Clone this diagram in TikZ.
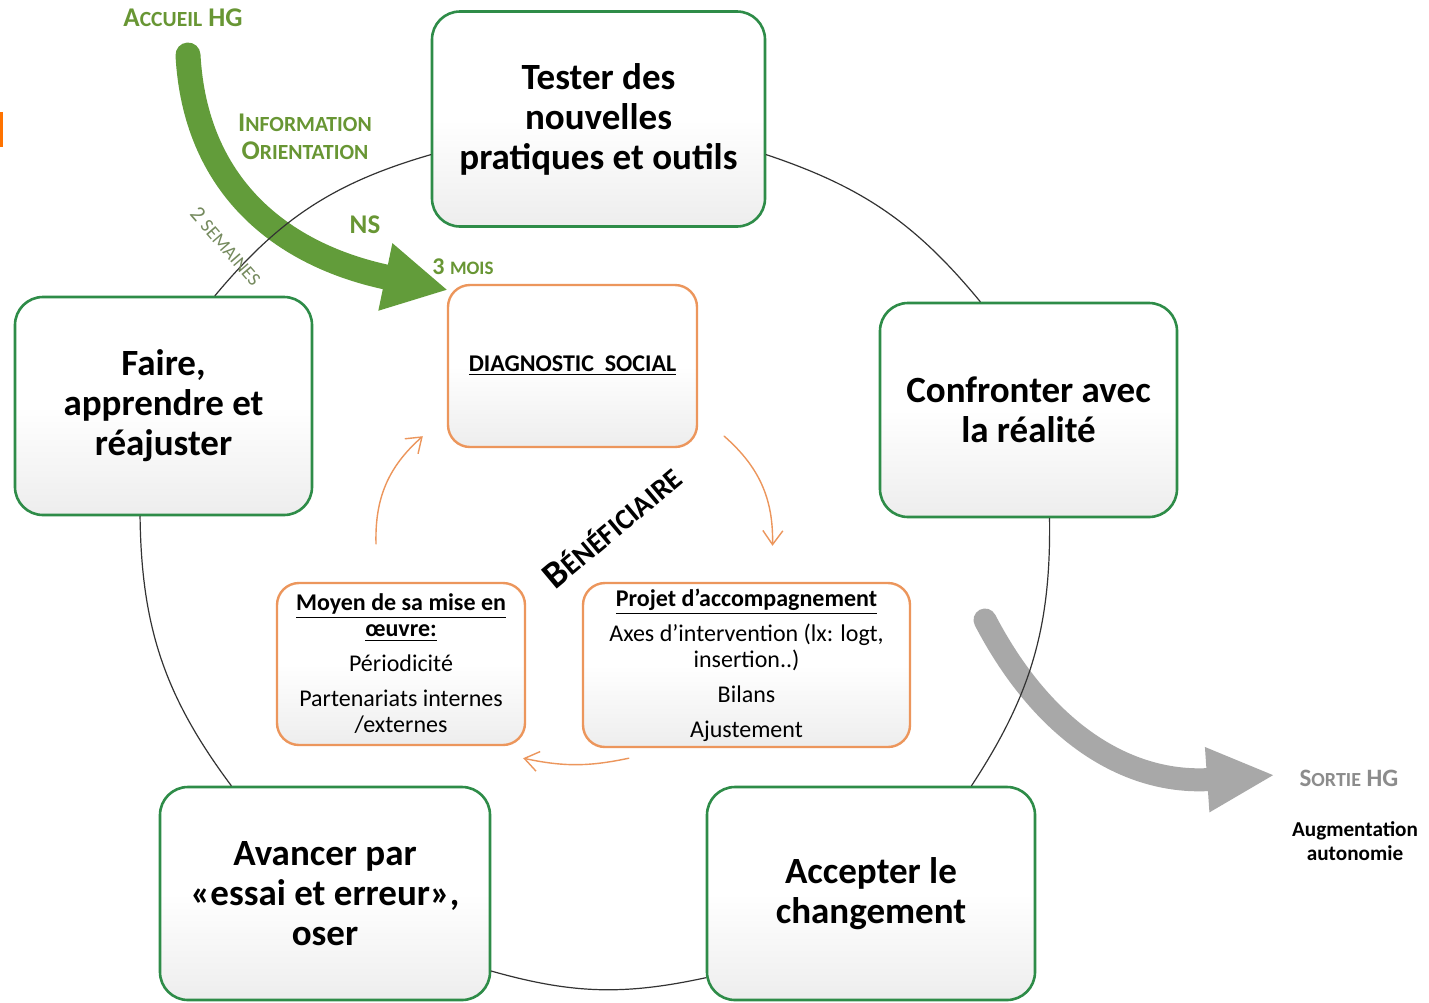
\documentclass[tikz,border=0pt]{standalone}
\usepackage{fontspec}
\setmainfont{Carlito}
\usetikzlibrary{arrows.meta}

\definecolor{cadre}{RGB}{46,140,72}
\definecolor{orangec}{RGB}{236,150,92}
\definecolor{vertfl}{RGB}{98,156,58}
\definecolor{vertlb}{RGB}{104,150,52}
\definecolor{grisfl}{RGB}{168,168,168}
\definecolor{grislb}{RGB}{140,140,140}

% petites capitales a la main
\newcommand{\gc}[1]{{\fontsize{13.5}{15}\selectfont #1}}
\newcommand{\pc}[1]{{\fontsize{10.8}{12}\selectfont #1}}

\tikzset{
  etape/.style={draw=cadre, line width=1.3pt, rounded corners=14pt,
    top color=white, bottom color=black!7, middle color=white,
    align=center, inner sep=0pt,
    font=\fontsize{18.5}{20}\selectfont\bfseries},
  bloc/.style={draw=orangec, line width=1.2pt, rounded corners=11pt,
    top color=white, bottom color=black!7, middle color=white,
    align=center, inner sep=0pt, font=\fontsize{12}{13}\selectfont},
  cycle/.style={black!80, line width=0.6pt},
  retour/.style={orangec, line width=0.7pt, -{Straight Barb[length=7pt,width=10pt]}},
  etiq/.style={vertlb, font=\bfseries, inner sep=0pt}
}

\begin{document}
\begin{tikzpicture}[x=0.5pt,y=-0.5pt,line cap=round]
  \fill[white] (0,0) rectangle (1429,1002);
  \useasboundingbox (0,0) rectangle (1429,1002);
  \fill[orange!90!red] (0,112) rectangle (2.5,147);

  % grandes fleches
  \draw[line width=12.5pt, vertfl, -{Triangle[length=32pt,width=32pt]}]
    (188,55) .. controls (195,185) and (280,255) .. (448,290);
  \draw[line width=11.5pt, grisfl, -{Triangle[length=34pt,width=30pt]}]
    (985,620) .. controls (1045,735) and (1130,785) .. (1275,775);

  % etapes du cycle
  \node[etape, minimum width=166.5pt, minimum height=107.5pt] (tester) at (598.5,119)
    {Tester des\\nouvelles\\pratiques et outils};
  \node[etape, minimum width=148.5pt, minimum height=107pt] (confronter) at (1028.5,410)
    {Confronter avec\\la réalité};
  \node[etape, minimum width=164pt, minimum height=106.5pt] (accepter) at (871,893.5)
    {Accepter le\\changement};
  \node[etape, minimum width=165pt, minimum height=106.5pt] (avancer) at (325,893.5)
    {Avancer par\\«essai et erreur»,\\oser};
  \node[etape, minimum width=148.5pt, minimum height=109pt] (faire) at (163.5,406)
    {Faire,\\apprendre et\\réajuster};

  \draw[cycle] (tester.192) to[bend right=17] (faire.65);
  \draw[cycle] (faire.258) to[bend right=18] (avancer.131);
  \draw[cycle] (avancer.335) to[bend right=14] (accepter.207);
  \draw[cycle] (accepter.47) to[bend right=17] (confronter.281);
  \draw[cycle] (confronter.114) to[bend right=16] (tester.348);

  % accompagnement
  \node[bloc, minimum width=124.5pt, minimum height=81pt] (diag) at (572.5,366)
    {\bfseries\underline{DIAGNOSTIC\ \ SOCIAL}};
  \node[bloc, minimum width=163.5pt, minimum height=82pt] (projet) at (746.5,665)
    {\bfseries\underline{Projet d’accompagnement}\\[4.5pt]
     Axes d’intervention (lx: logt,\\insertion..)\\[4.5pt]
     Bilans\\[4.5pt]Ajustement};
  \node[bloc, minimum width=124pt, minimum height=81pt] (moyen) at (401,664)
    {\bfseries\underline{Moyen de sa mise en}\\\bfseries\underline{œuvre:}\\[4.5pt]
     Périodicité\\[4.5pt]
     Partenariats internes\\/externes};

  \draw[retour] ([xshift=13pt,yshift=6pt]diag.south east) to[bend left=25]
    ([xshift=13pt,yshift=18pt]projet.north);
  \draw[retour] ([xshift=23.5pt,yshift=-5pt]projet.south west) to[bend left=12]
    ([xshift=-1.5pt,yshift=-6pt]moyen.south east);
  \draw[retour] ([xshift=-12.5pt,yshift=19pt]moyen.north) to[bend left=25]
    ([xshift=-12pt,yshift=6pt]diag.south west);

  \node[rotate=40, font=\bfseries, inner sep=0pt] (benef) at (612,527)
    {{\fontsize{19}{20}\selectfont B}{\fontsize{14.5}{16}\selectfont ÉNÉFICIAIRE}};

  % etiquettes
  \node[etiq] (accueil) at (183,18) {\gc{A}\pc{CCUEIL}\gc{ HG}};
  \node[etiq, align=center] (info) at (305,137)
    {\gc{I}\pc{NFORMATION}\\[2pt]\gc{O}\pc{RIENTATION}};
  \node[etiq] (ns) at (365,225) {\gc{NS}};
  \node[etiq] (mois) at (463,267)
    {{\fontsize{12}{13}\selectfont 3 }{\fontsize{9.5}{11}\selectfont MOIS}};
  \node[vertlb!45!gray, rotate=-49, inner sep=0pt] (semaines) at (226,246)
    {{\fontsize{11}{12}\selectfont 2 }{\fontsize{9.5}{11}\selectfont SEMAINES}};
  \node[grislb, font=\bfseries, inner sep=0pt] (sortie) at (1349,778)
    {{\fontsize{12.5}{14}\selectfont S}{\fontsize{10}{12}\selectfont ORTIE}{\fontsize{12.5}{14}\selectfont\ HG}};
  \node[font=\fontsize{10.6}{12}\selectfont\bfseries, align=center, inner sep=0pt] (autonomie)
    at (1355,841) {Augmentation\\autonomie};
\end{tikzpicture}
\end{document}
